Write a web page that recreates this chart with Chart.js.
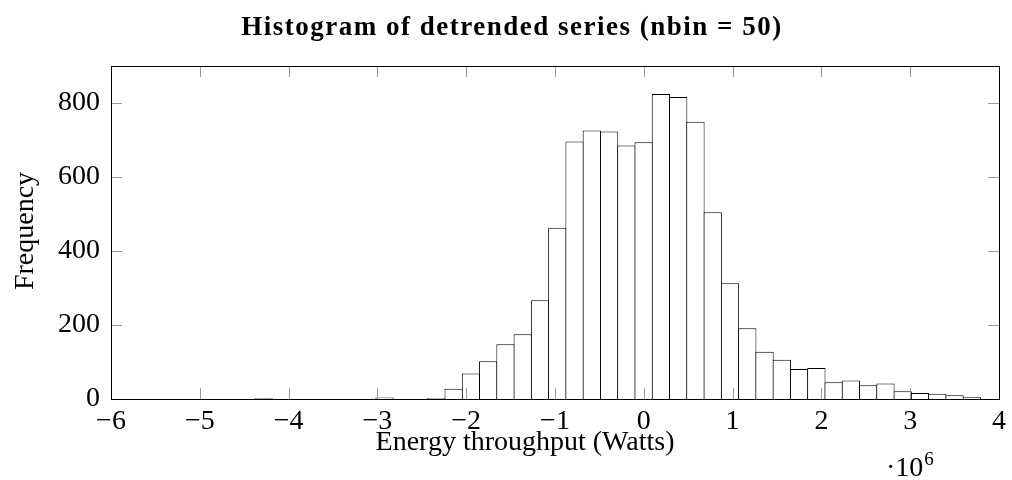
<!DOCTYPE html>
<html>
<head>
<meta charset="utf-8">
<script src="https://cdn.jsdelivr.net/npm/chart.js@4"></script>
<style>
  html, body { margin: 0; padding: 0; background: #fff; }
  #wrap { width: 1012px; height: 480px; }
</style>
</head>
<body>
<div id="wrap"><canvas id="hist"></canvas></div>
<script>
// histogram bins (x in units of 10^6 W)
const binStart = -5.934;
const binWidth = 0.1945;
const counts = [
  1, 0, 0, 1, 0, 0, 0, 1, 2, 0,
  0, 0, 0, 0, 0, 4, 0, 0, 3, 28,
  69, 102, 148, 175, 267, 463, 696, 726, 723, 685,
  694, 824, 816, 749, 505, 313, 191, 128, 106, 81,
  84, 45, 50, 37, 42, 21, 16, 14, 10, 5
];
const xTicks = [-6, -5, -4, -3, -2, -1, 0, 1, 2, 3, 4];
const yTicks = [0, 200, 400, 600, 800];

const titleText = "Histogram of detrended series (nbin = 50)";
const xLabel = "Energy throughput (Watts)";
const yLabel = "Frequency";

const serif = "'Liberation Serif', 'DejaVu Serif', serif";

const points = counts.map((c, i) => ({ x: binStart + (i + 0.5) * binWidth, y: c }));

// frame, inward ticks (all four sides) and labels
const decor = {
  id: "decor",
  afterDatasetsDraw(chart) {
    const ctx = chart.ctx;
    const a = chart.chartArea;
    const xs = chart.scales.x, ys = chart.scales.y;
    ctx.save();
    ctx.strokeStyle = "#9a9a9a";
    ctx.lineWidth = 1;
    xTicks.forEach(v => {
      if (v === xTicks[0] || v === xTicks[xTicks.length - 1]) return;
      const px = Math.round(xs.getPixelForValue(v)) + 0.5;
      ctx.beginPath();
      ctx.moveTo(px, a.bottom); ctx.lineTo(px, a.bottom - 11);
      ctx.moveTo(px, a.top); ctx.lineTo(px, a.top + 11);
      ctx.stroke();
    });
    yTicks.forEach(v => {
      if (v === 0) return;
      const py = Math.round(ys.getPixelForValue(v)) + 0.5;
      ctx.beginPath();
      ctx.moveTo(a.left, py); ctx.lineTo(a.left + 11, py);
      ctx.moveTo(a.right, py); ctx.lineTo(a.right - 11, py);
      ctx.stroke();
    });
    ctx.strokeStyle = "#000";
    ctx.strokeRect(Math.round(a.left) + 0.5, Math.round(a.top) + 0.5,
                   Math.round(a.right - a.left), Math.round(a.bottom - a.top));

    ctx.fillStyle = "#000";
    ctx.textBaseline = "alphabetic";

    // title (widened a little to match the reference lettering)
    ctx.textAlign = "left";
    ctx.font = "bold 27px " + serif;
    ctx.letterSpacing = "1.5px";
    const tw = ctx.measureText(titleText).width;
    ctx.fillText(titleText, 512 - tw / 2, 35);
    ctx.letterSpacing = "0px";

    ctx.textAlign = "center";
    ctx.font = "28px " + serif;
    ctx.fillText(xLabel, 525, 450);

    ctx.save();
    ctx.translate(33, 231);
    ctx.rotate(-Math.PI / 2);
    ctx.fillText(yLabel, 0, 0);
    ctx.restore();

    // scale factor label
    ctx.textAlign = "left";
    ctx.font = "28px " + serif;
    ctx.fillText("\u00b710", 886, 476);
    const sw = ctx.measureText("\u00b710").width;
    ctx.font = "19px " + serif;
    ctx.fillText("6", 886 + sw + 1, 465);
    ctx.restore();
  }
};

new Chart(document.getElementById("hist"), {
  type: "bar",
  data: {
    datasets: [{
      data: points,
      backgroundColor: "#fff",
      borderColor: "#000",
      borderWidth: 1,
      barPercentage: 1.058,
      categoryPercentage: 1
    }]
  },
  options: {
    responsive: true,
    maintainAspectRatio: false,
    animation: false,
    events: [],
    layout: { padding: { left: 0, right: 13, top: 66, bottom: 0 } },
    plugins: {
      legend: { display: false },
      title: { display: false },
      tooltip: { enabled: false }
    },
    scales: {
      x: {
        type: "linear",
        offset: false,
        min: -6,
        max: 4,
        afterFit(scale) { scale.height = 81; },
        afterBuildTicks(scale) { scale.ticks = xTicks.map(v => ({ value: v })); },
        grid: { display: false, drawTicks: false },
        border: { display: false },
        ticks: {
          padding: 6,
          color: "#000",
          font: { family: serif, size: 28 },
          maxRotation: 0,
          callback: v => (v < 0 ? "\u2212" + Math.abs(v) : String(v))
        }
      },
      y: {
        min: 0,
        max: 900,
        afterFit(scale) { scale.width = 111; },
        afterBuildTicks(scale) { scale.ticks = yTicks.map(v => ({ value: v })); },
        grid: { display: false, drawTicks: false },
        border: { display: false },
        ticks: {
          padding: 11,
          color: "#000",
          font: { family: serif, size: 28 }
        }
      }
    }
  },
  plugins: [decor]
});
</script>
</body>
</html>
